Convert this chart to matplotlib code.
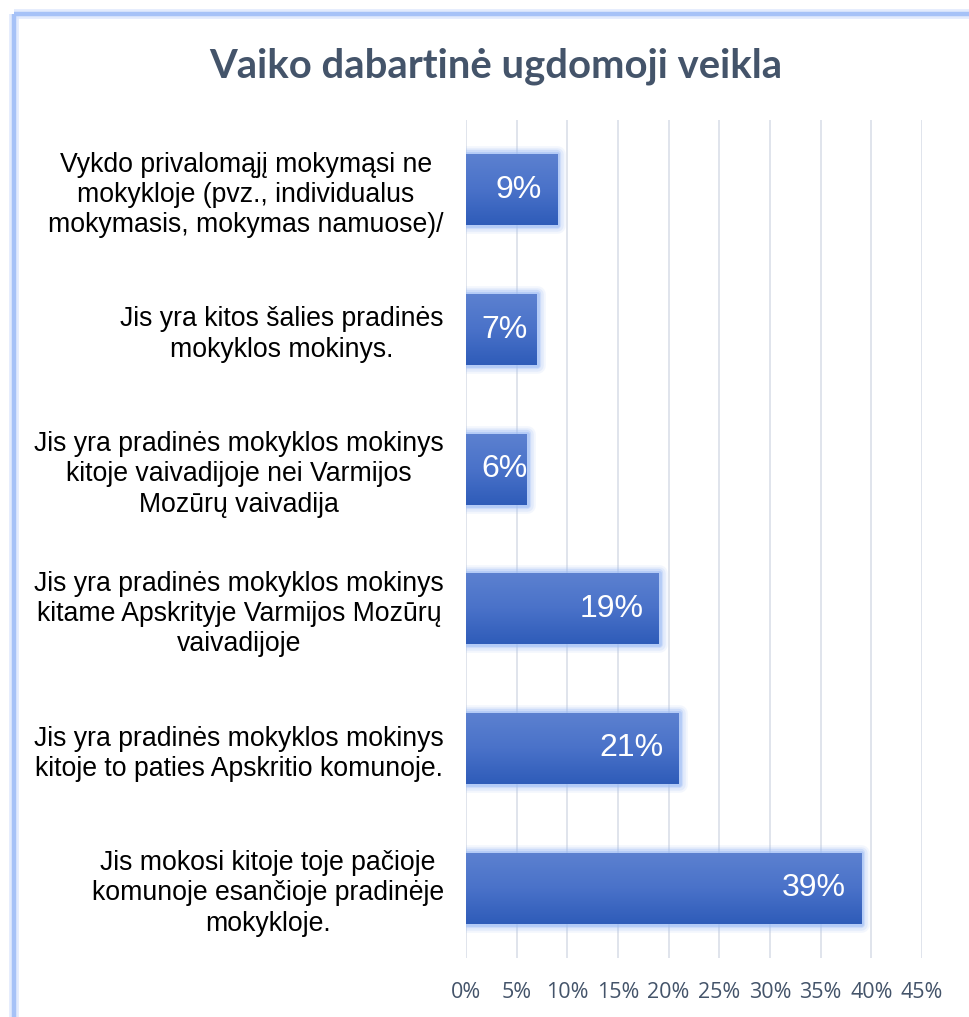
import numpy as np
import matplotlib
matplotlib.use("Agg")
import matplotlib.pyplot as plt
from matplotlib.lines import Line2D

# data, top row first
categories = [
    "Vykdo privalomąjį mokymąsi ne\nmokykloje (pvz., individualus\nmokymasis, mokymas namuose)/",
    "Jis yra kitos šalies pradinės\nmokyklos mokinys.",
    "Jis yra pradinės mokyklos mokinys\nkitoje vaivadijoje nei Varmijos\nMozūrų vaivadija",
    "Jis yra pradinės mokyklos mokinys\nkitame Apskrityje Varmijos Mozūrų\nvaivadijoje",
    "Jis yra pradinės mokyklos mokinys\nkitoje to paties Apskritio komunoje.",
    "Jis mokosi kitoje toje pačioje\nkomunoje esančioje pradinėje\nmokykloje.",
]
values = [9, 7, 6, 19, 21, 39]
xticks = [0, 5, 10, 15, 20, 25, 30, 35, 40, 45]
title = "Vaiko dabartinė ugdomoji veikla"

W, H = 969, 1017
fig = plt.figure(figsize=(W / 100, H / 100), dpi=100)
ax = fig.add_axes([466 / W, 1 - 958 / H, (922 - 466) / W, (958 - 120) / H])

y = np.arange(len(values))
bar_h = 0.51

# soft glow around the bars, several faint strokes
for lw, a in [(12, 0.12), (9, 0.18), (6, 0.3), (3.5, 0.5)]:
    ax.barh(y, values, height=bar_h, color="none", edgecolor="#9dbcf5",
            linewidth=lw, alpha=a, zorder=2, joinstyle="round")
bars = ax.barh(y, values, height=bar_h, color="#4570c8", linewidth=0, zorder=3)

# vertical gradient inside every bar
grad = np.linspace(0, 1, 64).reshape(-1, 1)
cmap = matplotlib.colors.LinearSegmentedColormap.from_list(
    "bar", ["#5c81d0", "#4a72c9", "#2f5cb9"])
for rect in bars:
    x0, y0 = rect.get_x(), rect.get_y()
    w, h = rect.get_width(), rect.get_height()
    im = ax.imshow(grad, cmap=cmap, aspect="auto", zorder=4,
                   extent=(x0, x0 + w, y0 + h, y0), interpolation="bilinear")
    im.set_clip_path(rect)

# labels sit at the inner end, but never further left than a minimum spot
for yi, v in zip(y, values):
    ax.text(max(v - 1.5, 6.1), yi, f"{v}%", ha="right", va="center",
            color="white", fontsize=23, family="Liberation Sans", zorder=5)

ax.set_xlim(0, 45)
ax.set_ylim(len(values) - 0.5, -0.5)
ax.set_xticks(xticks)
ax.set_xticklabels([f"{t}%" for t in xticks], family="Open Sans",
                   fontsize=15.5, color="#44546A")
ax.set_yticks(y)
ax.set_yticklabels(categories, family="Liberation Sans", fontsize=19.2,
                   color="black", multialignment="center", linespacing=1.22)
ax.tick_params(axis="both", length=0)
ax.tick_params(axis="x", pad=17)
ax.tick_params(axis="y", pad=16)
ax.grid(axis="x", color="#dde2eb", linewidth=1.3, zorder=0)
ax.set_axisbelow(True)
for s in ax.spines.values():
    s.set_visible(False)

fig.text(496 / W, 1 - 66 / H, title, ha="center", va="center",
         family="Lato", fontweight="bold", fontsize=28.8, color="#44546A")

# chart frame: only left and top edges are visible
fx, fy = 14 / W, 1 - 14 / H
for lw, col, a in [(7, "#dbe6fd", 0.8), (3.2, "#a6c2f7", 1.0)]:
    fig.add_artist(Line2D([fx, fx], [0, fy], color=col, linewidth=lw, alpha=a,
                          solid_capstyle="butt"))
    fig.add_artist(Line2D([fx, 1], [fy, fy], color=col, linewidth=lw, alpha=a,
                          solid_capstyle="butt"))

fig.savefig("out.png", dpi=100, facecolor="white")
